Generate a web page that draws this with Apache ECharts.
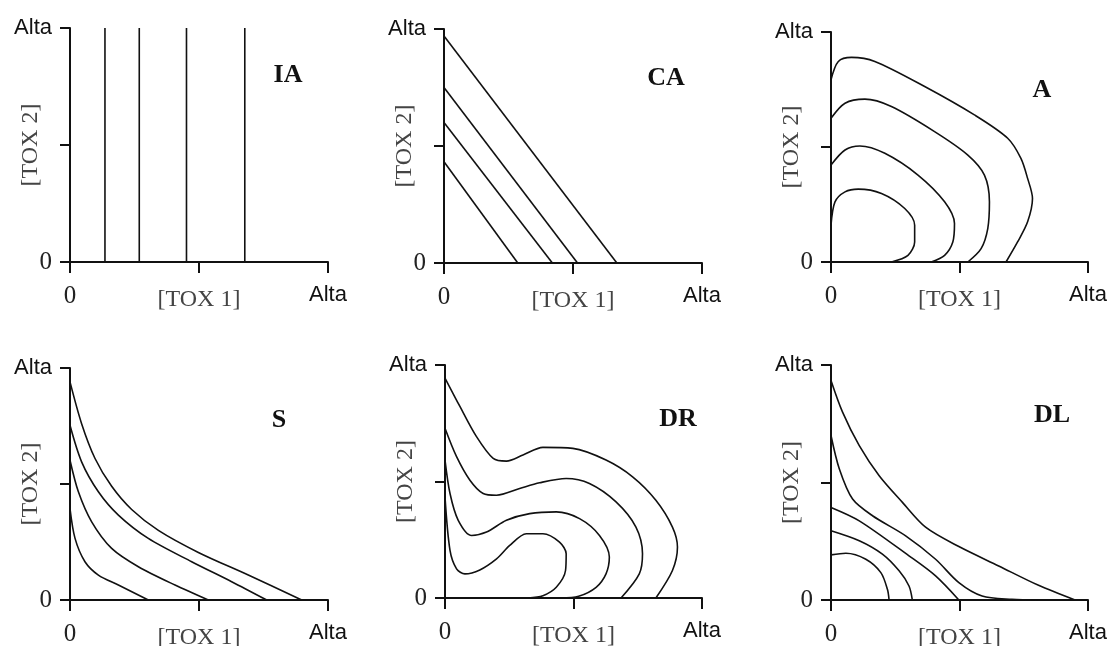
<!DOCTYPE html>
<html>
<head>
<meta charset="utf-8">
<title>Isobologramas</title>
<script src="https://cdn.jsdelivr.net/npm/echarts@6/dist/echarts.min.js"></script>
<style>
  html, body { margin: 0; padding: 0; background: #fff; }
  #chart { width: 1108px; height: 646px; }
</style>
</head>
<body>
<div id="chart"></div>
<script type="text/javascript">
// escala de los ejes: 0 .. Alta (2 unidades)
var axisTicks = [0, 1, 2];
var tickNames = ['0', '', 'Alta'];
var panelTitles = ['IA', 'CA', 'A', 'S', 'DR', 'DL'];

// IA: rectas verticales (TOX 1 constante)
var iaLevels = [0.271, 0.537, 0.903, 1.355];

// CA: rectas, corte en eje Y y en eje X
var caYcut = [0.866, 1.2, 1.5, 1.94];
var caXcut = [0.572, 0.84, 1.035, 1.34];

// A: curvas cerradas hacia el origen
var aCurve1 = [[0, 1.584], [0.057, 1.744], [0.16, 1.779], [0.341, 1.744], [0.729, 1.526], [1.116, 1.279], [1.375, 1.076], [1.478, 0.901], [1.53, 0.727], [1.568, 0.552], [1.53, 0.349], [1.452, 0.174], [1.362, 0]];
var aCurve2 = [[0, 1.25], [0.109, 1.381], [0.264, 1.416], [0.47, 1.352], [0.806, 1.134], [1.065, 0.93], [1.194, 0.756], [1.233, 0.523], [1.22, 0.291], [1.168, 0.116], [1.065, 0]];
var aCurve3 = [[0, 0.843], [0.109, 0.974], [0.225, 1.009], [0.419, 0.945], [0.677, 0.756], [0.884, 0.523], [0.961, 0.334], [0.948, 0.174], [0.884, 0.058], [0.78, 0]];
var aCurve4 = [[0, 0.32], [0.031, 0.523], [0.109, 0.61], [0.212, 0.634], [0.393, 0.596], [0.574, 0.465], [0.651, 0.32], [0.651, 0.174], [0.599, 0.058], [0.47, 0]];

// S: curvas cóncavas
var sCurve1 = [[0, 1.88], [0.09, 1.52], [0.194, 1.22], [0.323, 0.98], [0.478, 0.78], [0.685, 0.6], [0.995, 0.41], [1.382, 0.215], [1.796, 0]];
var sCurve2 = [[0, 1.506], [0.09, 1.191], [0.22, 0.933], [0.375, 0.732], [0.607, 0.531], [0.943, 0.33], [1.253, 0.158], [1.525, 0]];
var sCurve3 = [[0, 1.205], [0.065, 0.933], [0.168, 0.674], [0.323, 0.445], [0.53, 0.287], [0.814, 0.129], [1.072, 0]];
var sCurve4 = [[0, 0.789], [0.039, 0.531], [0.116, 0.33], [0.22, 0.215], [0.375, 0.129], [0.607, 0]];

// DR
var drCurve1 = [[0, 1.888], [0.116, 1.644], [0.245, 1.385], [0.375, 1.198], [0.478, 1.175], [0.607, 1.227], [0.762, 1.293], [0.995, 1.284], [1.253, 1.184], [1.46, 1.04], [1.641, 0.839], [1.77, 0.609], [1.809, 0.437], [1.77, 0.236], [1.641, 0]];
var drCurve2 = [[0, 1.457], [0.09, 1.213], [0.194, 1.011], [0.297, 0.897], [0.401, 0.882], [0.581, 0.94], [0.736, 0.989], [0.943, 1.026], [1.124, 0.983], [1.331, 0.825], [1.486, 0.609], [1.537, 0.379], [1.512, 0.207], [1.37, 0]];
var drCurve3 = [[0, 1.184], [0.039, 0.897], [0.103, 0.667], [0.207, 0.537], [0.323, 0.566], [0.478, 0.667], [0.659, 0.724], [0.866, 0.739], [1.047, 0.681], [1.202, 0.537], [1.279, 0.351], [1.253, 0.207], [1.176, 0.092], [1.04, 0.015], [0.9, 0]];
var drCurve4 = [[0, 0.868], [0.039, 0.408], [0.09, 0.25], [0.155, 0.207], [0.271, 0.241], [0.401, 0.336], [0.504, 0.451], [0.633, 0.552], [0.762, 0.552], [0.891, 0.48], [0.943, 0.379], [0.938, 0.236], [0.866, 0.092], [0.762, 0.02], [0.646, 0]];

// DL
var dlCurve1 = [[0, 1.869], [0.09, 1.599], [0.22, 1.314], [0.375, 1.058], [0.556, 0.831], [0.736, 0.62], [0.995, 0.455], [1.305, 0.29], [1.615, 0.125], [1.899, 0]];
var dlCurve2 = [[0, 1.4], [0.065, 1.115], [0.168, 0.859], [0.323, 0.717], [0.581, 0.546], [0.814, 0.347], [0.995, 0.148], [1.176, 0.034], [1.408, 0.006], [1.615, 0]];
var dlCurve3 = [[0, 0.788], [0.22, 0.674], [0.607, 0.376], [0.814, 0.205], [0.995, 0]];
var dlCurve4 = [[0, 0.589], [0.22, 0.504], [0.4, 0.39], [0.53, 0.248], [0.607, 0.119], [0.633, 0]];
var dlCurve5 = [[0, 0.384], [0.116, 0.398], [0.271, 0.347], [0.388, 0.233], [0.439, 0.091], [0.452, 0]];

// posiciones de los 6 paneles
var gridBoxes = [
  { left: 70, top: 28, width: 258, height: 234 },
  { left: 444, top: 29, width: 258, height: 234 },
  { left: 831, top: 32, width: 257, height: 230 },
  { left: 70, top: 368, width: 258, height: 232 },
  { left: 445, top: 365, width: 257, height: 233 },
  { left: 831, top: 365, width: 257, height: 235 }
];
var titlePos = [[288, 75], [666, 78], [1042, 90], [279, 420], [678, 419], [1052, 415]];

var serif = '"Liberation Serif", "DejaVu Serif", serif';
var sans = '"Liberation Sans", Arial, sans-serif';

function tickLabel(v) {
  var i = axisTicks.indexOf(v);
  if (i < 0 || tickNames[i] === '') return '';
  return tickNames[i] === '0' ? '{n|0}' : '{s|' + tickNames[i] + '}';
}

var labelRich = {
  n: { fontFamily: serif, fontSize: 25, color: '#222' },
  s: { fontFamily: sans, fontSize: 22, color: '#111' }
};

var grids = [], xAxes = [], yAxes = [], series = [], graphics = [];

for (var p = 0; p < 6; p++) {
  var g = gridBoxes[p];
  grids.push({ left: g.left, top: g.top, width: g.width, height: g.height, containLabel: false, outerBoundsMode: 'none' });
  xAxes.push({
    gridIndex: p, type: 'value', min: 0, max: 2, interval: 1,
    name: '[TOX 1]', nameLocation: 'middle', nameGap: 26, nameMoveOverlap: false,
    nameTextStyle: { fontFamily: serif, fontSize: 24, color: '#444' },
    axisLine: { lineStyle: { color: '#111', width: 2 } },
    axisTick: { length: 11, lineStyle: { color: '#111', width: 2 } },
    axisLabel: { margin: 22, formatter: tickLabel, rich: labelRich, showMinLabel: true, showMaxLabel: true },
    splitLine: { show: false }
  });
  yAxes.push({
    gridIndex: p, type: 'value', min: 0, max: 2, interval: 1,
    name: '[TOX 2]', nameLocation: 'middle', nameGap: 27, nameRotate: 90, nameMoveOverlap: false,
    nameTextStyle: { fontFamily: serif, fontSize: 24, color: '#444' },
    axisLine: { lineStyle: { color: '#111', width: 2 } },
    axisTick: { length: 10, lineStyle: { color: '#111', width: 2 } },
    axisLabel: { margin: 18, formatter: tickLabel, rich: labelRich, showMinLabel: true, showMaxLabel: true },
    splitLine: { show: false }
  });
  graphics.push({
    type: 'text', x: titlePos[p][0], y: titlePos[p][1],
    style: {
      text: panelTitles[p], fontFamily: serif, fontWeight: 'bold', fontSize: 26,
      fill: '#111', align: 'center', verticalAlign: 'middle'
    }
  });
}

function addLine(panel, data, smooth) {
  series.push({
    type: 'line', xAxisIndex: panel, yAxisIndex: panel,
    data: data, showSymbol: false, smooth: smooth ? 0.3 : false,
    lineStyle: { color: '#111', width: 1.6 }, silent: true
  });
}

iaLevels.forEach(function (x) { addLine(0, [[x, 0], [x, 2]], false); });
caYcut.forEach(function (y, i) { addLine(1, [[0, y], [caXcut[i], 0]], false); });
[aCurve1, aCurve2, aCurve3, aCurve4].forEach(function (c) { addLine(2, c, true); });
[sCurve1, sCurve2, sCurve3, sCurve4].forEach(function (c) { addLine(3, c, true); });
[drCurve1, drCurve2, drCurve3, drCurve4].forEach(function (c) { addLine(4, c, true); });
[dlCurve1, dlCurve2, dlCurve3, dlCurve4, dlCurve5].forEach(function (c) { addLine(5, c, true); });

var chart = echarts.init(document.getElementById('chart'));
chart.setOption({
  animation: false,
  backgroundColor: '#fff',
  grid: grids,
  xAxis: xAxes,
  yAxis: yAxes,
  series: series,
  graphic: graphics
});
</script>
</body>
</html>
